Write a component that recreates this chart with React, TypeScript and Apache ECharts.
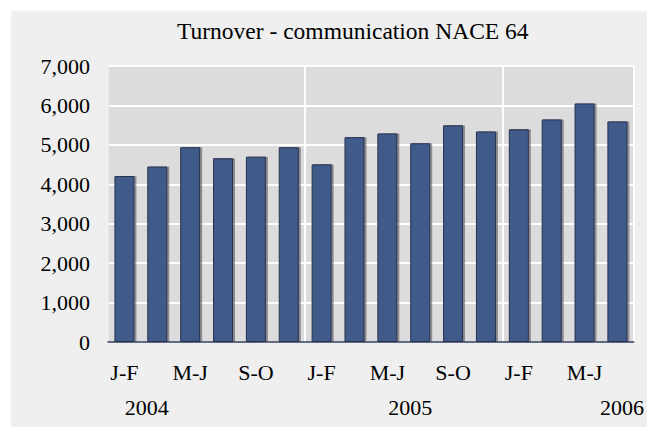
import React, { useEffect, useRef } from "react";
import * as echarts from "echarts";

const periods = ["J-F", "M-A", "M-J", "J-A", "S-O", "N-D", "J-F", "M-A", "M-J", "J-A", "S-O", "N-D", "J-F", "M-A", "M-J", "J-A"];
const turnover = [4210, 4450, 4940, 4660, 4700, 4940, 4505, 5195, 5290, 5040, 5495, 5340, 5395, 5645, 6050, 5595];
const years = ["2004", "2005", "2006"];
const yearLabelAt = [1.18, 9.2, 15.64];
const yearStartIndex = [6, 12];
const yTicks = { min: 0, max: 7000, interval: 1000 };
const titleText = "Turnover - communication NACE 64";

const FONT = "Liberation Serif";

export default function App() {
  const ref = useRef<HTMLDivElement>(null);
  useEffect(() => {
    document.body.style.margin = "0";
    if (!ref.current) return;
    const chart = echarts.init(ref.current, undefined, { renderer: "svg" });
    chart.setOption({
      animation: false,
      backgroundColor: "#ffffff",
      textStyle: { fontFamily: FONT },
      graphic: [
        {
          type: "rect",
          z: -10,
          silent: true,
          shape: { x: 11, y: 11, width: 640, height: 420 },
          style: { fill: "#efefef", stroke: "#f8f8f8", lineWidth: 1 },
        },
      ],
      title: {
        text: titleText,
        left: 172,
        top: 14,
        textStyle: { fontFamily: FONT, fontSize: 23.5, fontWeight: "normal", color: "#000" },
      },
      grid: {
        left: 108,
        right: 10,
        top: 66,
        bottom: 85,
        show: true,
        backgroundColor: "#dcdcdc",
        borderWidth: 0,
      },
      xAxis: [
        {
          type: "category",
          data: periods,
          boundaryGap: true,
          axisLine: { show: true, lineStyle: { color: "#2d3a5c", width: 1.5 } },
          axisTick: { show: false },
          axisLabel: {
            interval: 1,
            margin: 19,
            fontFamily: FONT,
            fontSize: 22,
            color: "#000",
          },
          splitLine: {
            show: true,
            interval: (i: number) => yearStartIndex.includes(i),
            lineStyle: { color: "#ffffff", width: 2 },
          },
        },
        {
          type: "value",
          min: 0,
          max: periods.length,
          position: "bottom",
          axisLine: { show: false },
          axisTick: { show: false },
          splitLine: { show: false },
          axisLabel: {
            customValues: yearLabelAt,
            formatter: (v: number) => {
              const k = yearLabelAt.findIndex((p) => Math.abs(p - v) < 1e-6);
              return k >= 0 ? years[k] : "";
            },
            margin: 54,
            fontFamily: FONT,
            fontSize: 22,
            color: "#000",
            showMinLabel: true,
            showMaxLabel: true,
          },
        },
      ],
      yAxis: {
        type: "value",
        min: yTicks.min,
        max: yTicks.max,
        interval: yTicks.interval,
        axisLine: { show: true, lineStyle: { color: "#e9e9e9", width: 1 } },
        axisTick: { show: false },
        axisLabel: {
          margin: 18,
          fontFamily: FONT,
          fontSize: 22,
          color: "#000",
          formatter: (v: number) => v.toLocaleString("en-US"),
        },
        splitLine: { show: true, lineStyle: { color: "#ffffff", width: 2 } },
      },
      series: [
        {
          type: "bar",
          xAxisIndex: 0,
          data: turnover,
          barWidth: 20,
          itemStyle: {
            color: "#405a89",
            borderColor: "#27324f",
            borderWidth: 1,
            shadowColor: "rgba(70,70,80,0.55)",
            shadowOffsetX: 2,
            shadowOffsetY: 0,
            shadowBlur: 0,
          },
        },
      ],
    });
    return () => chart.dispose();
  }, []);
  return <div ref={ref} style={{ width: 647, height: 427 }} />;
}
